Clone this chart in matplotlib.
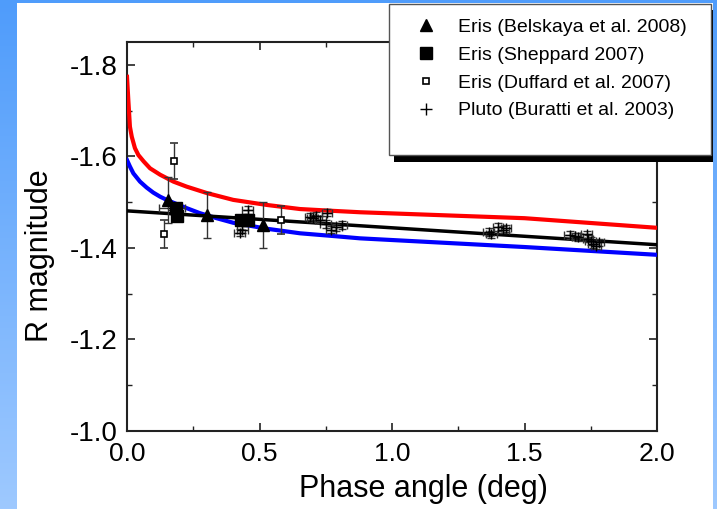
import numpy as np
import matplotlib
matplotlib.use("Agg")
import matplotlib.pyplot as plt
from matplotlib.patches import Rectangle
from matplotlib.lines import Line2D

plt.rcParams["font.family"] = ["Liberation Sans", "DejaVu Sans"]
plt.rcParams["axes.unicode_minus"] = False

# ---- model curves (phase angle in deg, R magnitude) ----
red_x = [0.0, 0.005, 0.011, 0.018, 0.030, 0.043, 0.063, 0.087, 0.125, 0.175,
         0.225, 0.301, 0.401, 0.527, 0.653, 0.779, 0.879, 1.5, 2.0]
red_y = [-1.774, -1.723, -1.665, -1.643, -1.618, -1.603, -1.589, -1.574, -1.560, -1.545,
         -1.534, -1.520, -1.505, -1.494, -1.485, -1.481, -1.478, -1.465, -1.444]

blue_x = [0.0, 0.011, 0.024, 0.049, 0.074, 0.099, 0.125, 0.150, 0.187, 0.225,
          0.275, 0.338, 0.401, 0.527, 0.653, 0.779, 0.879, 1.5, 2.0]
blue_y = [-1.592, -1.578, -1.563, -1.545, -1.532, -1.521, -1.512, -1.505, -1.496, -1.487,
          -1.476, -1.465, -1.455, -1.442, -1.432, -1.426, -1.421, -1.402, -1.385]

black_x = [0.0, 2.0]
black_y = [-1.481, -1.407]

# ---- observations ----
belskaya_x = [0.155, 0.30, 0.515]
belskaya_y = [-1.505, -1.472, -1.450]
belskaya_err = [0.05, 0.05, 0.05]

sheppard_x = [0.185, 0.19, 0.43, 0.455]
sheppard_y = [-1.487, -1.470, -1.460, -1.462]

duffard_x = [0.14, 0.177, 0.58]
duffard_y = [-1.430, -1.590, -1.461]
duffard_err = [0.03, 0.04, 0.03]

pluto_x = [0.17, 0.455, 0.425, 0.435,
           0.69, 0.70, 0.715, 0.73, 0.755, 0.75, 0.77, 0.79, 0.81,
           1.365, 1.375, 1.40, 1.42, 1.43,
           1.67, 1.69, 1.70, 1.735, 1.74, 1.75, 1.76, 1.77, 1.78]
pluto_y = [-1.487, -1.483, -1.433, -1.440,
           -1.468, -1.465, -1.470, -1.462, -1.477, -1.452, -1.440, -1.445, -1.450,
           -1.435, -1.430, -1.446, -1.440, -1.443,
           -1.428, -1.425, -1.424, -1.430, -1.420, -1.415, -1.408, -1.405, -1.412]
pluto_xerr = [0.05] + [0.02] * 26
pluto_yerr = [0.004] + [0.008] * 26

x_ticks = [0.0, 0.5, 1.0, 1.5, 2.0]
y_ticks = [-1.8, -1.6, -1.4, -1.2, -1.0]

legend_labels = ["Eris (Belskaya et al. 2008)", "Eris (Sheppard 2007)",
                 "Eris (Duffard et al. 2007)", "Pluto (Buratti et al. 2003)"]

W, H = 717, 509
fig = plt.figure(figsize=(W / 100, H / 100), dpi=100)

# background: blue gradient frame with a white panel
bg = fig.add_axes([0, 0, 1, 1], zorder=-10)
grad = np.linspace(0, 1, 256).reshape(-1, 1)
top_c = np.array([0x4f, 0x9c, 0xfb]) / 255
bot_c = np.array([0x9e, 0xc9, 0xff]) / 255
img = top_c[None, None, :] * (1 - grad[:, :, None]) + bot_c[None, None, :] * grad[:, :, None]
bg.imshow(img, aspect="auto", extent=[0, W, H, 0])
bg.add_patch(Rectangle((17, 3), 713 - 17, H - 3, facecolor="white", edgecolor="none"))
bg.set_xlim(0, W)
bg.set_ylim(H, 0)
bg.axis("off")

ax = fig.add_axes([127 / W, 1 - 431 / H, (657 - 127) / W, (431 - 42) / H])
ax.set_facecolor("none")

ax.plot(red_x, red_y, color="#ff0000", lw=3.0, zorder=3)
ax.plot(blue_x, blue_y, color="#0000ff", lw=3.0, zorder=3)
ax.plot(black_x, black_y, color="black", lw=2.5, zorder=3)

ebkw = dict(ecolor="#333333", elinewidth=1.0, capsize=3, capthick=1.0, linestyle="none")
ax.errorbar(pluto_x, pluto_y, xerr=pluto_xerr, yerr=pluto_yerr, marker="+", ms=7,
            mec="black", mew=1.0, zorder=4, **ebkw)
ax.errorbar(duffard_x, duffard_y, yerr=duffard_err, marker="s", ms=5, mfc="white",
            mec="black", mew=1.2, zorder=5, **ebkw)
ax.errorbar(belskaya_x, belskaya_y, yerr=belskaya_err, marker="^", ms=9, mfc="black",
            mec="black", zorder=5, **ebkw)
ax.plot(sheppard_x, sheppard_y, linestyle="none", marker="s", ms=9, mfc="black",
        mec="black", zorder=5)

ax.set_xlim(0, 2.0)
ax.set_ylim(-1.0, -1.85)
ax.set_xticks(x_ticks)
ax.set_xticklabels([f"{v:.1f}" for v in x_ticks])
ax.set_yticks(y_ticks)
ax.set_yticklabels([f"{v:.1f}" for v in y_ticks])
ax.set_xticks(np.arange(0, 2.01, 0.25), minor=True)
ax.set_yticks(np.arange(-1.8, -0.99, 0.1), minor=True)
ax.tick_params(which="both", direction="in", top=True, right=True, color="#222222")
ax.tick_params(which="major", length=6, width=1.2)
ax.tick_params(which="minor", length=3.5, width=1.0)
ax.tick_params(axis="x", labelsize=19, pad=8)
ax.tick_params(axis="y", labelsize=20, pad=7)
for s in ax.spines.values():
    s.set_linewidth(1.5)
    s.set_color("#222222")

ax.set_xlabel("Phase angle (deg)", fontsize=22)
ax.set_ylabel("R magnitude", fontsize=22)
ax.xaxis.set_label_coords((423 - 127) / 530, (431 - 474) / 389)
ax.yaxis.set_label_coords((55 - 127) / 530, (431 - 256) / 389)

# legend panel with drop shadow
lax = fig.add_axes([0, 0, 1, 1], zorder=10)
lax.set_xlim(0, W)
lax.set_ylim(H, 0)
lax.axis("off")
lax.add_patch(Rectangle((394, 10), 713 - 394, 152, facecolor="black", edgecolor="none"))
lax.add_patch(Rectangle((389, 4), 711 - 389, 151, facecolor="white", edgecolor="#555555", lw=1.0))

handles = [
    Line2D([], [], ls="none", marker="^", ms=9, mfc="black", mec="black"),
    Line2D([], [], ls="none", marker="s", ms=8, mfc="black", mec="black"),
    Line2D([], [], ls="none", marker="s", ms=5, mfc="white", mec="black", mew=1.2),
    Line2D([], [], ls="none", marker="+", ms=8, mec="black", mew=1.0),
]
lax.legend(handles, legend_labels, loc="upper left",
           bbox_to_anchor=(401 / W, 1 - 5 / H), frameon=False, fontsize=14,
           handlelength=1.2, handletextpad=1.05, labelspacing=0.52, borderpad=0.2)

fig.savefig("out.png", dpi=100)
